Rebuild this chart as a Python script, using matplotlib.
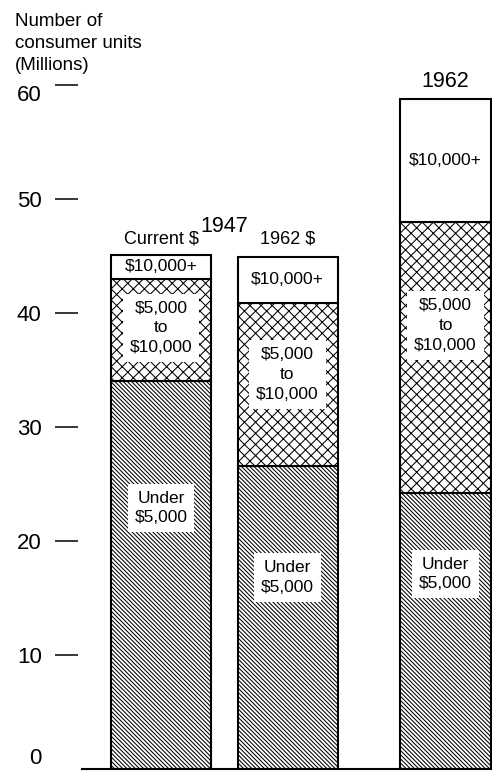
import matplotlib
matplotlib.use("Agg")
import matplotlib.pyplot as plt
import numpy as np

plt.rcParams['font.family'] = ['Liberation Sans', 'DejaVu Sans']
plt.rcParams['hatch.linewidth'] = 0.75
plt.rcParams['hatch.color'] = 'black'

# data (millions of consumer units)
bars = ['1947 current $', '1947 in 1962 $', '1962']
under_5000 = [34.0, 26.6, 24.2]
from_5000_to_10000 = [9.0, 14.3, 23.8]
over_10000 = [2.1, 4.0, 10.8]
yticks = [0, 10, 20, 30, 40, 50, 60]

# layout
xpos = [0.0, 1.265, 2.845]
widths = [1.0, 1.0, 0.91]
lab_under = [22.9, 16.8, 17.1]
lab_mid = [38.7, 34.6, 38.9]

fig = plt.figure(figsize=(4.92, 7.71), dpi=100)
ax = fig.add_axes([82/492, 2/771, 410/492, 769/771])
ax.set_xlim(-0.79, 3.31)
ax.set_ylim(0, 769/11.4)

under = np.array(under_5000)
mid = np.array(from_5000_to_10000)
top = np.array(over_10000)

ax.bar(xpos, under, width=widths, color='white', edgecolor='black',
       linewidth=1.5, hatch='\\' * 8)
ax.bar(xpos, mid, width=widths, bottom=under, color='white', edgecolor='black',
       linewidth=1.5, hatch='xxx')
ax.bar(xpos, top, width=widths, bottom=under+mid, color='white', edgecolor='black',
       linewidth=1.5)

box = dict(boxstyle='square,pad=0.4', fc='white', ec='none')
for i in range(3):
    ax.text(xpos[i], under[i] + mid[i] + top[i]/2, '$10,000+', ha='center', va='center',
            fontsize=12.5, bbox=dict(boxstyle='square,pad=0.1', fc='white', ec='none'))
    ax.text(xpos[i], lab_mid[i], '$5,000\nto\n$10,000', ha='center', va='center',
            fontsize=12.5, linespacing=1.4, bbox=box)
    ax.text(xpos[i], lab_under[i], 'Under\n$5,000', ha='center', va='center',
            fontsize=12.5, linespacing=1.35, bbox=box)

ax.text((xpos[0]+xpos[1])/2, 47.6, '1947', ha='center', va='center', fontsize=15.5)
ax.text(xpos[0], 46.5, 'Current $', ha='center', va='center', fontsize=13)
ax.text(xpos[1], 46.5, '1962 $', ha='center', va='center', fontsize=13)
ax.text(xpos[2], 60.3, '1962', ha='center', va='center', fontsize=15.5)

for s in ['top', 'right']:
    ax.spines[s].set_visible(False)
ax.spines['left'].set_position(('outward', 3))
ax.spines['left'].set_visible(False)
ax.spines['bottom'].set_linewidth(1.5)
ax.set_xticks([])
ax.set_yticks(yticks)
ax.set_yticklabels([str(v) for v in yticks], fontsize=16)
ax.tick_params(axis='y', length=16.5, width=1.1, pad=9.5)
ticks = ax.yaxis.get_major_ticks()
ticks[0].tick1line.set_visible(False)
ticks[0].label1.set_va('bottom')
ticks[-1].label1.set_va('top')

fig.text(15/492, 1 - 13/771, 'Number of\nconsumer units\n(Millions)', ha='left', va='top',
         fontsize=13.5, linespacing=1.4)

fig.savefig('out.png', dpi=100)
